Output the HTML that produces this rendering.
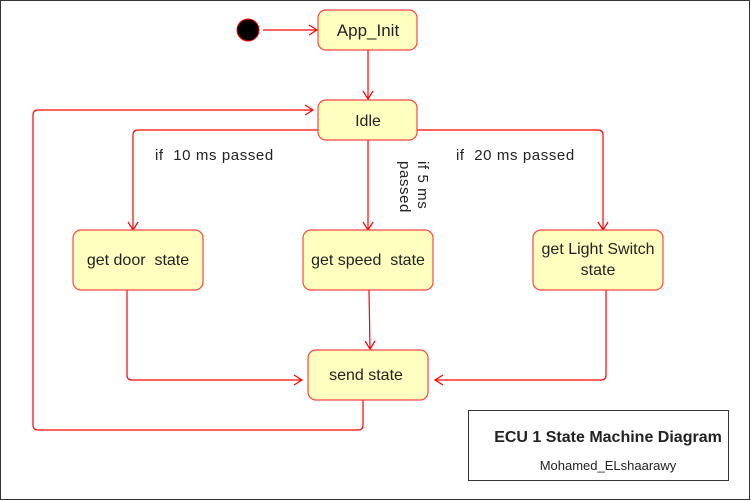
<!DOCTYPE html>
<html><head><style>
body{margin:0;background:#fff}
svg{display:block}
text{font-family:"Liberation Sans",Arial,sans-serif;fill:#222;white-space:pre}
</style></head><body>
<svg width="751" height="501" viewBox="0 0 751 501" xmlns="http://www.w3.org/2000/svg" xml:space="preserve">
<rect x="0.5" y="0.5" width="749" height="499" fill="#fff" stroke="#333" stroke-width="1"/>
<g fill="none" stroke="#f00" stroke-width="1.2">
<path d="M263 30H317"/><path d="M309 25l8 5-8 5"/>
<path d="M368 50V99"/><path d="M363 91l5 8 5-8"/>
<path d="M318 130H138q-5 0-5 5V230"/><path d="M128 222l5 8 5-8"/>
<path d="M368 140V230"/><path d="M363 222l5 8 5-8"/>
<path d="M417 130H598q5 0 5 5V230"/><path d="M598 222l5 8 5-8"/>
<path d="M127 290V375q0 5 5 5H302"/><path d="M294 375l8 5-8 5"/>
<path d="M369 290L370 349"/><path d="M365 341l5 8 5-8"/>
<path d="M606 290V375q0 5-5 5H435"/><path d="M443 375l-8 5 8 5"/>
<path d="M363 400V425q0 5-5 5H38q-5 0-5-5V115q0-5 5-5H313"/><path d="M305 105l8 5-8 5"/>
</g>
<circle cx="248" cy="30" r="11" fill="#000" stroke="#f00" stroke-width="1"/>
<g fill="#ffffc0" stroke="#f44" stroke-width="1.2">
<rect x="318" y="10" width="99" height="40" rx="8"/>
<rect x="318" y="100" width="99" height="40" rx="8"/>
<rect x="73" y="230" width="130" height="60" rx="8"/>
<rect x="303" y="230" width="130" height="60" rx="8"/>
<rect x="533" y="230" width="130" height="60" rx="8"/>
<rect x="308" y="350" width="120" height="50" rx="8"/>
</g>
<g font-size="16" text-anchor="middle">
<text x="368" y="36" font-size="17">App_Init</text>
<text x="368" y="126">Idle</text>
<text x="138" y="265">get door  state</text>
<text x="368" y="265">get speed  state</text>
<text x="598" y="254">get Light Switch</text>
<text x="598" y="275">state</text>
<text x="366" y="380">send state</text>
</g>
<g font-size="15" letter-spacing="0.6">
<text x="155" y="160">if  10 ms passed</text>
<text x="456" y="160">if  20 ms passed</text>
<text transform="translate(418,161) rotate(90)">if 5 ms</text>
<text transform="translate(400,161) rotate(90)">passed</text>
</g>
<rect x="468.5" y="410.5" width="260" height="70" fill="#fff" stroke="#333"/>
<text x="608" y="442" font-size="16" font-weight="bold" text-anchor="middle" fill="#111">ECU 1 State Machine Diagram</text>
<text x="608" y="470" font-size="13" text-anchor="middle" fill="#333">Mohamed_ELshaarawy</text>
</svg>
</body></html>
